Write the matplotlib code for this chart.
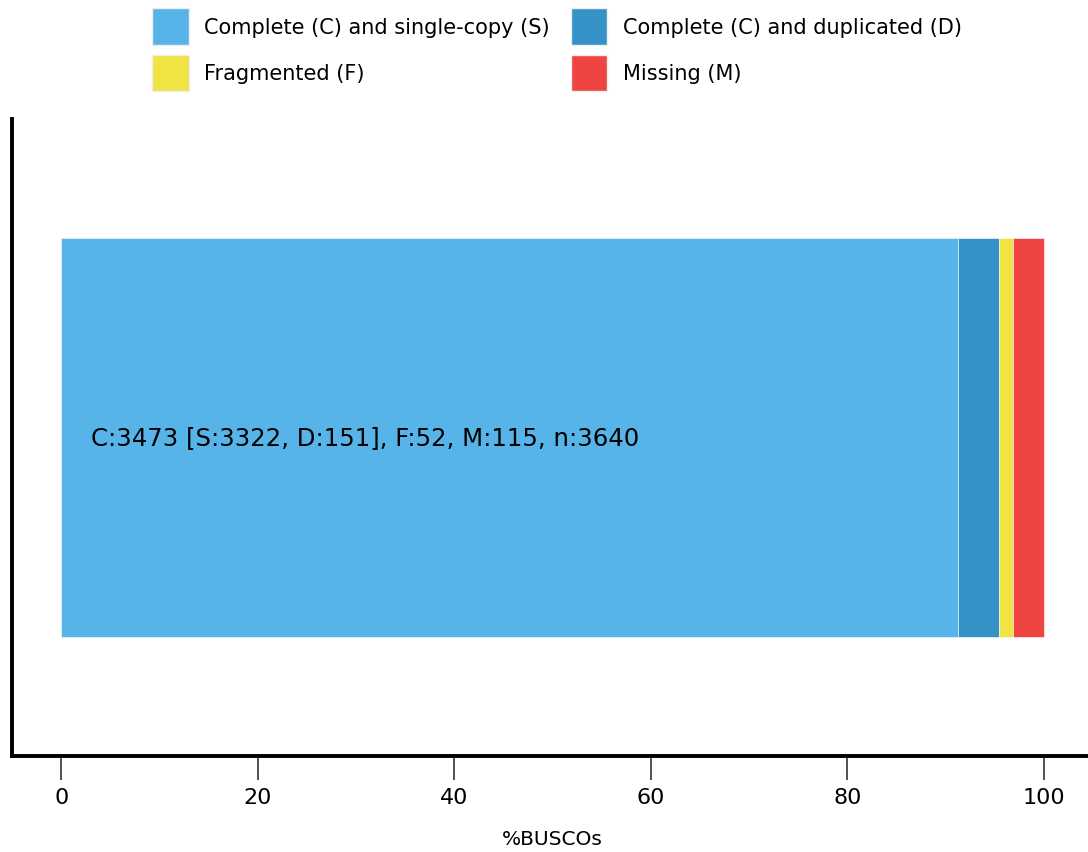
import matplotlib
matplotlib.use("Agg")
import matplotlib.pyplot as plt
from matplotlib.patches import Patch

# BUSCO counts
n_total = 3640
n_single = 3322
n_dup = 151
n_frag = 52
n_miss = 115
n_complete = n_single + n_dup

labels = ["Complete (C) and single-copy (S)", "Complete (C) and duplicated (D)",
          "Fragmented (F)", "Missing (M)"]
counts = [n_single, n_dup, n_frag, n_miss]
colors = ["#56B4E9", "#3492C7", "#F0E442", "#F04442"]

pcts = [c / n_total * 100 for c in counts]

fig = plt.figure(figsize=(10.88, 8.53), dpi=100)
ax = fig.add_axes([12 / 1088, 96 / 853, 1081 / 1088, 637 / 853])

left = 0.0
for p, col in zip(pcts, colors):
    ax.barh(0, p, left=left, height=0.75, color=col, edgecolor="white", linewidth=0.4)
    left += p

summary = (f"C:{n_complete} [S:{n_single}, D:{n_dup}], "
           f"F:{n_frag}, M:{n_miss}, n:{n_total}")
ax.text(3, 0, summary, va="center", ha="left", fontsize=17.6, color="black")

ax.set_xlim(-5, 105)
ax.set_ylim(-0.6, 0.6)
ax.set_yticks([])
ax.set_xticks(range(0, 101, 20))
ax.tick_params(axis="x", length=17, width=1.2, color="#333333", labelsize=16, pad=5)
for side in ["top", "right"]:
    ax.spines[side].set_visible(False)
for side in ["left", "bottom"]:
    ax.spines[side].set_linewidth(2.8)
    ax.spines[side].set_color("black")
ax.set_xlabel("%BUSCOs", fontsize=14.5, labelpad=16)

# legend: column-major, so S/F in first column and D/M in second
handles = [Patch(facecolor=colors[i], edgecolor="#eeeeee", linewidth=1) for i in (0, 2, 1, 3)]
leg_labels = [labels[i] for i in (0, 2, 1, 3)]
fig.legend(handles, leg_labels, loc="upper left", bbox_to_anchor=(146 / 1088, 1 - 3 / 853),
           ncol=2, frameon=False, fontsize=15, handlelength=1.75, handleheight=2.3,
           handletextpad=0.75, columnspacing=1.0, labelspacing=0.5,
           borderpad=0.3, borderaxespad=0.0)

fig.savefig("out.png", dpi=100)
